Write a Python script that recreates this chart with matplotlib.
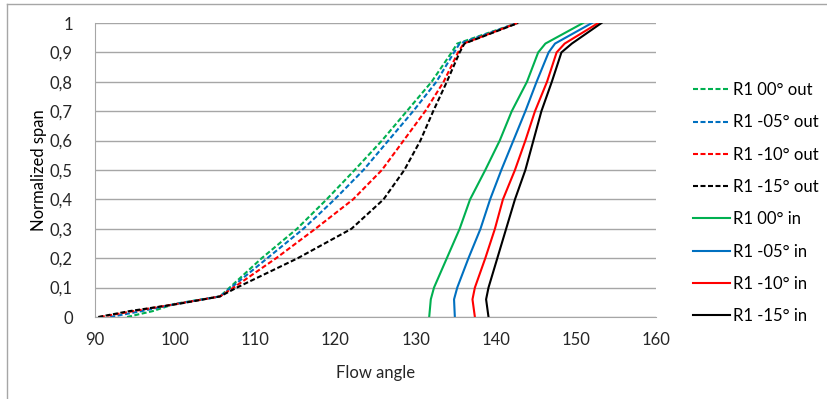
import matplotlib.pyplot as plt
from matplotlib.lines import Line2D

plt.rcParams['font.family'] = ['Lato', 'DejaVu Sans']

# spans (normalized) for outlet and inlet curves
span_out = [0, 0.02, 0.045, 0.07, 0.1, 0.2, 0.3, 0.4, 0.5, 0.6, 0.7, 0.8, 0.9, 0.93, 1.0]
span_in = [0, 0.06, 0.1, 0.2, 0.3, 0.4, 0.5, 0.6, 0.7, 0.8, 0.9, 0.93, 1.0]

# flow angles, outlet
out_00 = [94.0, 97.2, 100.0, 105.6, 106.8, 110.8, 115.2, 118.9, 122.4, 125.8, 128.9, 132.0, 134.5, 135.2, 142.7]
out_05 = [91.9, 95.8, 100.2, 105.6, 107.0, 111.5, 116.0, 119.9, 123.5, 126.6, 129.7, 132.6, 134.8, 135.5, 142.7]
out_10 = [90.6, 94.8, 100.3, 105.6, 107.3, 112.6, 117.5, 122.2, 125.8, 128.5, 131.2, 133.5, 135.3, 136.0, 142.7]
out_15 = [90.4, 94.3, 100.5, 105.6, 107.7, 115.3, 122.0, 126.0, 128.6, 130.6, 132.2, 133.9, 135.5, 136.1, 142.8]

# flow angles, inlet
in_00 = [131.7, 131.9, 132.3, 133.9, 135.5, 136.8, 138.7, 140.5, 142.0, 143.9, 145.3, 146.2, 150.9]
in_05 = [134.9, 134.8, 135.2, 136.6, 138.1, 139.3, 140.7, 142.2, 143.7, 145.1, 146.6, 147.4, 152.0]
in_10 = [137.4, 137.1, 137.4, 138.7, 139.9, 140.9, 142.4, 143.7, 144.9, 146.4, 147.6, 148.6, 152.8]
in_15 = [139.1, 138.8, 139.1, 140.2, 141.3, 142.4, 143.7, 144.7, 145.7, 147.0, 148.2, 149.5, 153.2]

colors = ['#00b050', '#0070c0', '#ff0000', '#000000']
labels_out = ['R1 00° out', 'R1 -05° out', 'R1 -10° out', 'R1 -15° out']
labels_in = ['R1 00° in', 'R1 -05° in', 'R1 -10° in', 'R1 -15° in']

x_ticks = [90, 100, 110, 120, 130, 140, 150, 160]
y_ticks = [0, 0.1, 0.2, 0.3, 0.4, 0.5, 0.6, 0.7, 0.8, 0.9, 1.0]
y_tick_labels = ['0', '0,1', '0,2', '0,3', '0,4', '0,5', '0,6', '0,7', '0,8', '0,9', '1']

fig = plt.figure(figsize=(8.27, 3.99), dpi=100)
ax = fig.add_axes([95 / 827, 82 / 399, 561 / 827, 294 / 399])

# outer chart border
fig.add_artist(Line2D([7 / 827, 1], [1 - 4 / 399, 1 - 4 / 399], transform=fig.transFigure,
                      color='#a6a6a6', lw=1))
fig.add_artist(Line2D([7 / 827, 7 / 827], [0, 1 - 4 / 399], transform=fig.transFigure,
                      color='#a6a6a6', lw=1))

for vals, c, lab in zip([out_00, out_05, out_10, out_15], colors, labels_out):
    ax.plot(vals, span_out, color=c, lw=1.5, linestyle=(0, (2.4, 1.2)), label=lab)
for vals, c, lab in zip([in_00, in_05, in_10, in_15], colors, labels_in):
    ax.plot(vals, span_in, color=c, lw=1.5, label=lab)

ax.set_xlim(90, 160)
ax.set_ylim(0, 1)
ax.set_xticks(x_ticks)
ax.set_yticks(y_ticks)
ax.set_yticklabels(y_tick_labels)
ax.tick_params(length=0, labelsize=12, colors='#262626')
ax.tick_params(axis='x', pad=11)
ax.tick_params(axis='y', pad=16)
ax.grid(axis='y', color='#a6a6a6', lw=1)
ax.set_axisbelow(True)
for s in ['top', 'right']:
    ax.spines[s].set_visible(False)
for s in ['left', 'bottom']:
    ax.spines[s].set_color('#a6a6a6')

ax.set_xlabel('Flow angle', fontsize=12, color='#262626', labelpad=12)
ax.set_ylabel('Normalized span', fontsize=12, color='#000000', labelpad=2)

ax.legend(loc='upper left', bbox_to_anchor=(693 / 827, 1 - 82 / 399),
          bbox_transform=fig.transFigure, frameon=False, fontsize=12,
          handlelength=2.2, handletextpad=0.2, labelspacing=0.98, borderaxespad=0,
          borderpad=0)

fig.savefig('out.png', dpi=100)
